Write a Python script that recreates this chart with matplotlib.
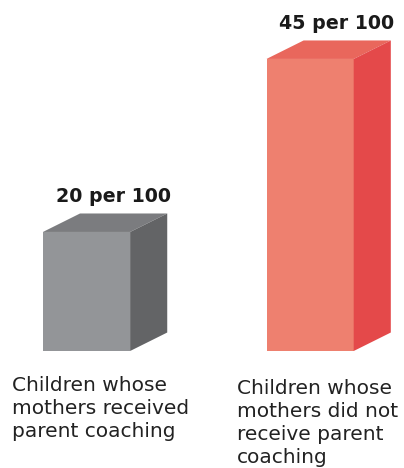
import matplotlib.pyplot as plt
from matplotlib.patches import Polygon

# data
categories = ["Children whose\nmothers received\nparent coaching",
              "Children whose\nmothers did not\nreceive parent\ncoaching"]
values = [20, 45]
value_labels = ["20 per 100", "45 per 100"]

# face colours: front, top, side
colors = [("#939598", "#7b7c7f", "#636466"),
          ("#ee806f", "#e9675c", "#e4494a")]

width = 0.39
dx = 0.166   # depth in x (category units)
dy = 2.67    # depth in y (value units)

fig = plt.figure(figsize=(4.04, 4.68), dpi=100)
ax = fig.add_axes([0, 0.25, 1, 0.698])
ax.set_xlim(-0.387, 1.42)
ax.set_ylim(2.8, 50)
ax.axis("off")
base = ax.get_ylim()[0]

for i, (v, (front, top, side)) in enumerate(zip(values, colors)):
    x0 = i - width / 2
    x1 = i + width / 2
    ax.add_patch(Polygon([(x0, base), (x1, base), (x1, v), (x0, v)],
                         closed=True, facecolor=front, edgecolor="none"))
    ax.add_patch(Polygon([(x0, v), (x1, v), (x1 + dx, v + dy), (x0 + dx, v + dy)],
                         closed=True, facecolor=top, edgecolor="none"))
    ax.add_patch(Polygon([(x1, base), (x1 + dx, base + dy), (x1 + dx, v + dy), (x1, v)],
                         closed=True, facecolor=side, edgecolor="none"))
    ax.text(i + 0.119, v + dy + 2.5, value_labels[i], ha="center", va="center",
            fontsize=13.7, fontweight="bold", color="#1a1a1a", clip_on=False)

# category labels below the bars
label_x = [-0.333, -0.327]
label_y = [-0.81, -1.25]
for i, cat in enumerate(categories):
    ax.text(i + label_x[i], label_y[i], cat, ha="left", va="top", fontsize=14.5,
            color="#222222", linespacing=1.26, clip_on=False)

fig.savefig("out.png", dpi=100)
